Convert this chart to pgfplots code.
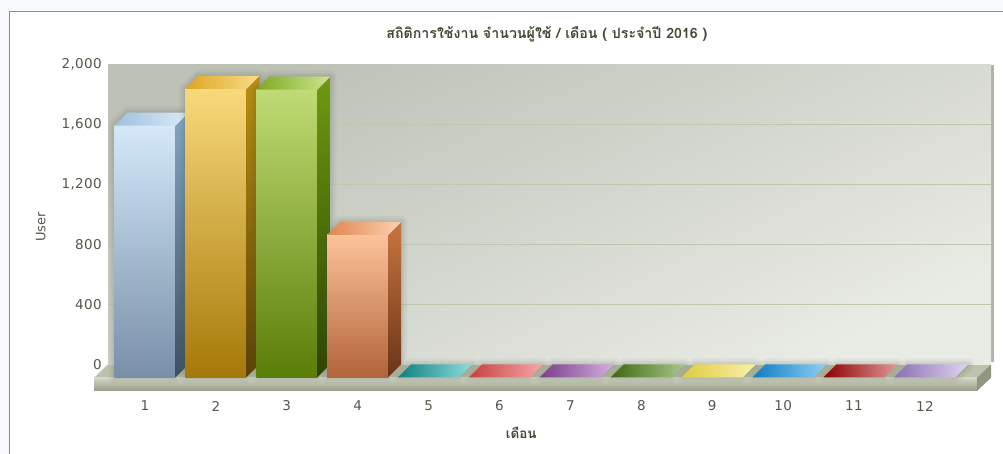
\documentclass[border=0pt]{standalone}
\usepackage{fontspec}
\usepackage{pgfplots}
\pgfplotsset{compat=1.18}
\setmainfont{DejaVu Sans}
\newfontfamily\thaifont[Script=Thai]{Loma}
\newfontfamily\tickfont[LetterSpace=3]{DejaVu Sans}

\definecolor{bgout}{HTML}{F7F9FD}
\definecolor{frame}{HTML}{8C8C8C}
\definecolor{wallT}{HTML}{BDC1B6}
\definecolor{wallB}{HTML}{E9EBE5}
\definecolor{gridc}{HTML}{BCC9AE}
\definecolor{tickc}{HTML}{52584A}
\definecolor{titlec}{HTML}{3E4A34}
\definecolor{floorT}{HTML}{BCC2AC}
\definecolor{slabT}{HTML}{D2D6C6}
\definecolor{slabB}{HTML}{959C85}
\definecolor{slabS}{HTML}{8F977F}
\definecolor{wallS}{HTML}{AEB4A6}
\definecolor{shad}{HTML}{505848}
% bar colours: front top, front bottom, side top, side bottom, top-face left, top-face right
\definecolor{a1}{HTML}{D4E8F8}\definecolor{a2}{HTML}{7790A8}\definecolor{a3}{HTML}{86A5C2}\definecolor{a4}{HTML}{3E5062}\definecolor{a5}{HTML}{9EC0DE}\definecolor{a6}{HTML}{DCEBF7}
\definecolor{b1}{HTML}{F8D97A}\definecolor{b2}{HTML}{A57908}\definecolor{b3}{HTML}{B8900F}\definecolor{b4}{HTML}{5C4104}\definecolor{b5}{HTML}{DDA623}\definecolor{b6}{HTML}{F9DC8A}
\definecolor{c1}{HTML}{C0DB74}\definecolor{c2}{HTML}{5A7E08}\definecolor{c3}{HTML}{6E9A10}\definecolor{c4}{HTML}{2C4400}\definecolor{c5}{HTML}{7FA920}\definecolor{c6}{HTML}{CCE590}
\definecolor{d1}{HTML}{FDC29A}\definecolor{d2}{HTML}{B2643A}\definecolor{d3}{HTML}{C87640}\definecolor{d4}{HTML}{6A3418}\definecolor{d5}{HTML}{E08650}\definecolor{d6}{HTML}{FDD0B0}
\definecolor{e5}{HTML}{0E8080}\definecolor{e6}{HTML}{90DCDC}
\definecolor{f5}{HTML}{C84040}\definecolor{f6}{HTML}{F4A8A8}
\definecolor{g5}{HTML}{7A3C88}\definecolor{g6}{HTML}{D4B0E0}
\definecolor{h5}{HTML}{3C6810}\definecolor{h6}{HTML}{A8C88C}
\definecolor{i5}{HTML}{E0CC40}\definecolor{i6}{HTML}{F8F0A8}
\definecolor{j5}{HTML}{0E7CC4}\definecolor{j6}{HTML}{90D0F4}
\definecolor{k5}{HTML}{8C0000}\definecolor{k6}{HTML}{E09898}
\definecolor{l5}{HTML}{8A70B4}\definecolor{l6}{HTML}{E0D4F0}

\pgfdeclareplotmark{none3d}{}
\newcommand\unitv{0.1498}
\newcommand\silhouette{(-43.5pt,\yb pt) -- (-43.5pt,-13pt) -- (-30.5pt,0pt) -- (30.5pt,0pt) -- (30.5pt,-\hh pt) -- (17.5pt,\yb pt) -- cycle}

\pgfplotsset{
  bar3d/.style n args={6}{
    scatter, only marks, mark=none3d,
    visualization depends on={rawy \as \val},
    scatter/@pre marker code/.code={%
      \pgfscope
      \pgfkeys{/pgf/fpu=false}%
      \pgfmathsetmacro\hh{\val*\unitv}%
      \pgfmathsetmacro\yb{-13-\hh}%
      \begin{scope}[xshift=2pt, yshift=2.5pt]
        \path[draw=shad, draw opacity=0.06, line width=12pt, line join=round] \silhouette;
        \path[draw=shad, draw opacity=0.07, line width=7pt, line join=round] \silhouette;
        \path[draw=shad, draw opacity=0.08, line width=3pt, line join=round] \silhouette;
      \end{scope}
      \ifdim\hh pt>0.5pt
        \shade[draw=none, top color=#1,bottom color=#2] (-43.5pt,-13pt) rectangle (17.5pt,\yb pt);
        \shade[draw=none, top color=#3,bottom color=#4] (17.5pt,-13pt) -- (30.5pt,0pt) -- (30.5pt,-\hh pt) -- (17.5pt,\yb pt) -- cycle;
      \fi
      \shade[draw=none, left color=#5,right color=#6] (-43.5pt,-13pt) -- (17.5pt,-13pt) -- (30.5pt,0pt) -- (-30.5pt,0pt) -- cycle;
    },
    scatter/@post marker code/.code={\endpgfscope},
  },
}

\begin{document}
\begin{tikzpicture}
\useasboundingbox (0,0) rectangle (1003pt,454pt);
\fill[bgout] (0,0) rectangle (1003pt,454pt);
\fill[white] (9pt,0) rectangle (1003pt,442.5pt);
\draw[frame, line width=1pt] (9.5pt,0) -- (9.5pt,442.5pt) -- (1003pt,442.5pt);
% floor
\fill[floorT] (108pt,89.7pt) -- (991pt,89.7pt) -- (977pt,76.3pt) -- (94pt,76.3pt) -- cycle;
\shade[top color=slabT, bottom color=slabB] (94pt,76.3pt) rectangle (977pt,63pt);
\fill[slabS] (977pt,76.3pt) -- (991pt,89.7pt) -- (991pt,76.3pt) -- (977pt,63pt) -- cycle;
\fill[wallS] (991pt,92pt) rectangle (994pt,389pt);

\begin{axis}[
  at={(108pt,89.7pt)}, anchor=south west,
  scale only axis, width=883pt, height=299.6pt,
  xmin=0.295, xmax=12.749, ymin=0, ymax=2000,
  clip=false,
  axis line style={draw=none},
  major tick length=0pt,
  axis background/.style={top color=wallT, bottom color=wallB, shading angle=25},
  ymajorgrids, grid style={color=gridc, line width=1.2pt},
  ytick={400,800,1200,1600},
  yticklabels={400,800,{1,200},{1,600}},
  extra y ticks={0,2000},
  extra y tick labels={0,{2,000}},
  extra y tick style={grid=none},
  yticklabel style={anchor=east, inner sep=0pt, xshift=-6pt, font=\tickfont\fontsize{13.5}{16}\selectfont, text=tickc},
  xtick={1,...,12},
  xticklabels={1,2,3,4,5,6,7,8,9,10,11,12},
  xticklabel style={anchor=center, inner sep=0pt, xshift=-13pt, yshift=-41.7pt, font=\tickfont\fontsize{13.5}{16}\selectfont, text=tickc},
  title={\thaifont\bfseries สถิติการใช้งาน จำนวนผู้ใช้ / เดือน ( ประจำปี 2016 )},
  title style={at={(axis description cs:0.497,1.080)}, anchor=center, inner sep=0pt, font=\fontsize{14.2}{17}\selectfont, text=titlec},
  ylabel={User},
  every axis y label/.style={at={(axis description cs:-0.0762,0.458)}, rotate=90, anchor=center, inner sep=0pt, font=\fontsize{13}{16}\selectfont, text=tickc},
  xlabel={\thaifont\bfseries เดือน},
  every axis x label/.style={at={(axis description cs:0.468,-0.229)}, anchor=center, inner sep=0pt, font=\fontsize{13.5}{16}\selectfont, text=titlec},
]
\addplot[bar3d={a1}{a2}{a3}{a4}{a5}{a6}] coordinates {(1,1680)};
\addplot[bar3d={b1}{b2}{b3}{b4}{b5}{b6}] coordinates {(2,1925)};
\addplot[bar3d={c1}{c2}{c3}{c4}{c5}{c6}] coordinates {(3,1920)};
\addplot[bar3d={d1}{d2}{d3}{d4}{d5}{d6}] coordinates {(4,950)};
\addplot[bar3d={e5}{e5}{e5}{e5}{e5}{e6}] coordinates {(5,0)};
\addplot[bar3d={f5}{f5}{f5}{f5}{f5}{f6}] coordinates {(6,0)};
\addplot[bar3d={g5}{g5}{g5}{g5}{g5}{g6}] coordinates {(7,0)};
\addplot[bar3d={h5}{h5}{h5}{h5}{h5}{h6}] coordinates {(8,0)};
\addplot[bar3d={i5}{i5}{i5}{i5}{i5}{i6}] coordinates {(9,0)};
\addplot[bar3d={j5}{j5}{j5}{j5}{j5}{j6}] coordinates {(10,0)};
\addplot[bar3d={k5}{k5}{k5}{k5}{k5}{k6}] coordinates {(11,0)};
\addplot[bar3d={l5}{l5}{l5}{l5}{l5}{l6}] coordinates {(12,0)};
\end{axis}
\end{tikzpicture}
\end{document}
